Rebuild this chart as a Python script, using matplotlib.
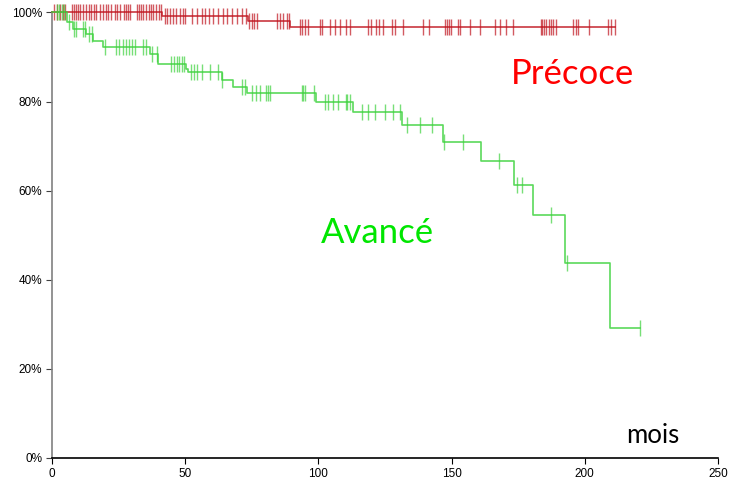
"""Courbes de survie (Kaplan-Meier) : stade precoce vs avance."""

import numpy as np
import matplotlib
matplotlib.use("Agg")
import matplotlib.pyplot as plt

# --- Precoce : instants de chute (mois) et survie (%) apres chaque chute
precoce_t = [0, 41.2, 73.5, 89.3]
precoce_s = [100, 99.1, 98.2, 96.7]
precoce_fin = 211.3
precoce_censures = [
    0.9, 1.8, 3.0, 4.0, 5.0, 7.4, 8.2, 9.0, 9.8, 10.7, 11.7, 12.7, 13.9, 14.8,
    15.7, 16.7, 17.9, 19.1, 20.1, 21.0, 22.3, 23.5, 24.4, 25.4, 26.9, 27.6,
    28.5, 29.4, 31.8, 32.6, 33.5, 34.3, 35.3, 36.3, 37.2, 38.1, 39.1, 40.0,
    40.9, 42.4, 43.2, 44.2, 45.5, 46.7, 48.1, 49.1, 49.9, 52.4, 54.3, 56.2,
    57.4, 59.0, 60.5, 62.4, 64.3, 65.8, 67.5, 69.3, 71.2, 73.0, 74.0, 74.9,
    75.8, 76.8, 84.3, 85.6, 86.8, 88.1, 89.0, 93.0, 94.0, 94.9, 96.1, 100.6,
    101.2, 104.3, 106.2, 108.1, 110.3, 111.8, 118.7, 119.7, 121.6, 122.8,
    124.1, 127.5, 128.7, 131.8, 139.3, 141.6, 147.4, 148.3, 149.0, 149.9,
    152.4, 153.1, 156.9, 160.6, 166.2, 168.1, 170.3, 173.1, 183.4, 184.1,
    184.7, 185.6, 186.4, 187.2, 188.1, 189.2, 195.6, 196.6, 197.5, 201.6,
    208.8, 209.8, 211.3,
]

# --- Avance
avance_t = [0, 5.6, 8.0, 12.8, 15.3, 19.2, 36.8, 39.9, 50.3, 51.2, 63.7, 68.0,
            73.3, 99.1, 113.0, 131.2, 146.6, 161.2, 173.5, 180.4, 192.5, 209.4]
avance_s = [100, 97.8, 96.3, 95.2, 93.6, 92.2, 90.7, 88.5, 87.4, 86.6, 84.8,
            83.3, 81.9, 79.9, 77.6, 74.7, 70.9, 66.7, 61.3, 54.6, 43.8, 29.1]
avance_fin = 220.6
avance_censures = [
    1.8, 2.8, 3.7, 4.6, 6.5, 8.2, 9.0, 11.8, 12.4, 14.0, 14.9, 19.9, 24.0,
    25.1, 26.6, 27.8, 28.9, 30.1, 31.2, 34.2, 35.3, 37.6, 39.4, 44.7, 45.8,
    46.8, 47.8, 48.8, 49.7, 52.1, 53.3, 54.5, 56.2, 59.3, 62.4, 63.9, 71.4,
    72.4, 75.2, 76.7, 78.2, 80.2, 81.1, 82.0, 93.7, 94.3, 94.9, 98.3, 102.5,
    103.7, 105.6, 107.4, 110.3, 110.9, 111.8, 116.2, 118.7, 121.2, 125.0,
    128.1, 130.6, 133.1, 138.3, 142.5, 147.1, 154.4, 167.7, 174.4, 176.3,
    187.4, 193.4, 220.6,
]

x_ticks = [0, 50, 100, 150, 200, 250]
y_ticks = [0, 20, 40, 60, 80, 100]


def trace_courbe(ax, temps, survie, fin, censures, couleur):
    t = list(temps) + [fin]
    s = list(survie) + [survie[-1]]
    ax.step(t, s, where="post", color=couleur, lw=1.2, alpha=0.85,
            clip_on=False, zorder=3)
    # survie au moment de chaque censure
    idx = np.searchsorted(temps, censures, side="right") - 1
    y_cens = np.array(survie)[idx]
    ax.plot(censures, y_cens, ls="none", marker="|", ms=11, mew=1.0,
            color=couleur, alpha=0.7, clip_on=False, zorder=3)


fig = plt.figure(figsize=(7.29, 4.82), dpi=100)
ax = fig.add_axes([0.0713, 0.0498, 0.9136, 0.9243])

trace_courbe(ax, precoce_t, precoce_s, precoce_fin, precoce_censures, "#c0141e")
trace_courbe(ax, avance_t, avance_s, avance_fin, avance_censures, "#3ed23e")

ax.set_xlim(0, 250)
ax.set_ylim(0, 100)
ax.set_xticks(x_ticks)
ax.set_yticks(y_ticks)
ax.set_yticklabels([f"{v}%" for v in y_ticks])

for side in ("top", "right"):
    ax.spines[side].set_visible(False)
ax.spines["left"].set_color("#808080")
ax.spines["left"].set_linewidth(1.2)
ax.spines["bottom"].set_color("black")
ax.spines["bottom"].set_linewidth(1.2)
ax.tick_params(axis="both", labelsize=8.5, length=4, pad=3)
ax.tick_params(axis="y", color="#404040")
for lab in ax.get_xticklabels() + ax.get_yticklabels():
    lab.set_family("Liberation Sans")

ax.text(195.5, 86.3, "Précoce", color="#ff0000", fontsize=25, family="Lato",
        ha="center", va="center")
ax.text(122, 50.6, "Avancé", color="#00e600", fontsize=25, family="Lato",
        ha="center", va="center")
ax.text(225.5, 5.0, "mois", color="black", fontsize=18.5, family="Lato",
        ha="center", va="center")

fig.savefig("out.png", dpi=100, facecolor="white")
